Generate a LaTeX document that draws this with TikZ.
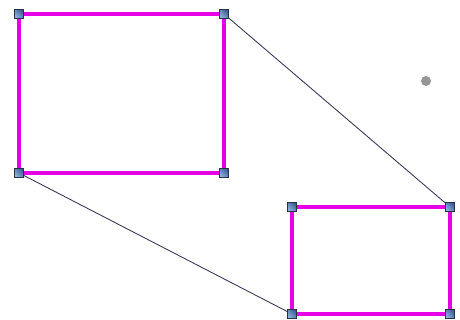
\documentclass[tikz,border=0pt]{standalone}
\definecolor{edgec}{RGB}{230,0,230}
\definecolor{linkc}{RGB}{60,60,90}
\definecolor{hdark}{RGB}{60,90,150}
\definecolor{hlight}{RGB}{140,180,220}
\definecolor{hborder}{RGB}{40,50,70}
\definecolor{dotc}{RGB}{150,150,150}
\begin{document}
\begin{tikzpicture}[x=1pt,y=-1pt,
  handle/.style={rectangle,draw=hborder,line width=0.6pt,minimum size=9pt,inner sep=0pt,top color=hlight,bottom color=hdark,shading angle=135},
  edge/.style={draw=edgec,line width=3.5pt},
  link/.style={draw=linkc,line width=0.9pt}]
\useasboundingbox (0,0) rectangle (460,320);
\fill[white] (0,0) rectangle (460,320);
\coordinate (A1) at (19,14);
\coordinate (A2) at (224,14);
\coordinate (A3) at (224,173);
\coordinate (A4) at (19,173);
\coordinate (B1) at (292,207);
\coordinate (B2) at (450,207);
\coordinate (B3) at (450,314);
\coordinate (B4) at (292,314);
\draw[link] (A2) -- (B2);
\draw[link] (A4) -- (B4);
\draw[edge] (A1) -- (A2) -- (A3) -- (A4) -- cycle;
\draw[edge] (B1) -- (B2) -- (B3) -- (B4) -- cycle;
\foreach \n in {A1,A2,A3,A4,B1,B2,B3,B4} \node[handle] (h\n) at (\n) {};
\node[circle,fill=dotc,inner sep=0pt,minimum size=10pt] (dot) at (426,81) {};
\end{tikzpicture}
\end{document}
